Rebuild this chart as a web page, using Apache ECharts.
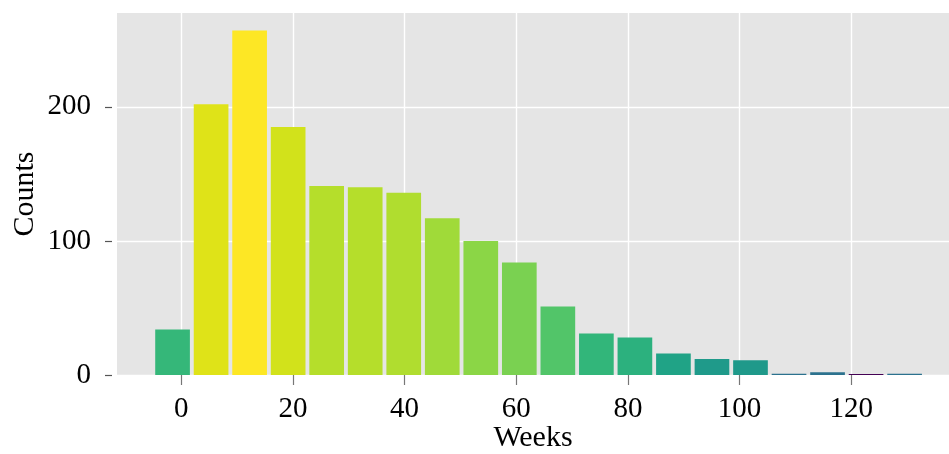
<!DOCTYPE html>
<html>
<head>
<meta charset="utf-8">
<script src="https://cdn.jsdelivr.net/npm/echarts@6/dist/echarts.min.js"></script>
<style>
  html, body { margin: 0; padding: 0; background: #ffffff; }
  #chart { width: 949px; height: 454px; }
</style>
</head>
<body>
<div id="chart"></div>
<script>
// Histogram of durations in weeks: 20 equal bins from -5 to 133
const binLeft = [-5, 1.9, 8.8, 15.7, 22.6, 29.5, 36.4, 43.3, 50.2, 57.1,
                 64, 70.9, 77.8, 84.7, 91.6, 98.5, 105.4, 112.3, 119.2, 126.1];
const binWidth = 6.9;
const counts = [34, 202, 257, 185, 141, 140, 136, 117, 100, 84,
                51, 31, 28, 16, 12, 11, 1, 2, 0, 1];
const barColors = ['#35b779', '#dfe318', '#fde725', '#d2e21b', '#b5de2b', '#b5de2b',
                   '#b0dd2f', '#a0da39', '#8bd646', '#7ad151', '#52c569', '#32b67a',
                   '#2cb17e', '#20a386', '#1f9a8a', '#1f998a', '#2c728e', '#2c728e',
                   '#440154', '#2c728e'];
const xTicks = [0, 20, 40, 60, 80, 100, 120];
const yTicks = [0, 100, 200];

const FONT = '"Liberation Serif", "DejaVu Serif", serif';
const relWidth = 0.9;

const barData = counts.map((c, i) => [binLeft[i], binLeft[i] + binWidth, c]);

const chart = echarts.init(document.getElementById('chart'), null, { renderer: 'canvas' });

chart.setOption({
  animation: false,
  backgroundColor: '#ffffff',
  grid: {
    left: 117, right: 0, top: 13, bottom: 79,
    containLabel: false,
    outerBoundsMode: 'none',
    show: true, backgroundColor: '#e5e5e5', borderWidth: 0
  },
  xAxis: {
    type: 'value',
    min: -11.5, max: 137.5,
    name: 'Weeks',
    nameLocation: 'middle',
    nameGap: 48,
    nameMoveOverlap: false,
    nameTextStyle: { fontFamily: FONT, fontSize: 30, color: '#000' },
    axisLine: { show: false, onZero: false },
    axisTick: { show: true, customValues: xTicks, length: 10, lineStyle: { color: '#777', width: 1.2 } },
    axisLabel: { customValues: xTicks, fontFamily: FONT, fontSize: 29, color: '#000', margin: 20 },
    splitLine: { show: true, lineStyle: { color: '#ffffff', width: 1.4 } }
  },
  yAxis: {
    type: 'value',
    min: 0, max: 270,
    offset: 5,
    name: 'Counts',
    nameLocation: 'middle',
    nameGap: 72,
    nameMoveOverlap: false,
    nameTextStyle: { fontFamily: FONT, fontSize: 30, color: '#000' },
    axisLine: { show: false, onZero: false },
    axisTick: { show: true, customValues: yTicks, length: 7, lineStyle: { color: '#555', width: 1.2 } },
    axisLabel: { customValues: yTicks, fontFamily: FONT, fontSize: 29, color: '#000', margin: 21 },
    splitLine: { show: true, lineStyle: { color: '#ffffff', width: 1.4 } }
  },
  series: [{
    type: 'custom',
    data: barData,
    encode: { x: [0, 1], y: 2 },
    renderItem: function (params, api) {
      const x0 = api.value(0), x1 = api.value(1), c = api.value(2);
      const pad = (x1 - x0) * (1 - relWidth) / 2;
      const p0 = api.coord([x0 + pad, c]);
      const p1 = api.coord([x1 - pad, 0]);
      const h = Math.max(p1[1] - p0[1], 1);
      return {
        type: 'rect',
        shape: { x: p0[0], y: p1[1] - h, width: p1[0] - p0[0], height: h },
        style: { fill: barColors[params.dataIndex] }
      };
    }
  }]
});
</script>
</body>
</html>
